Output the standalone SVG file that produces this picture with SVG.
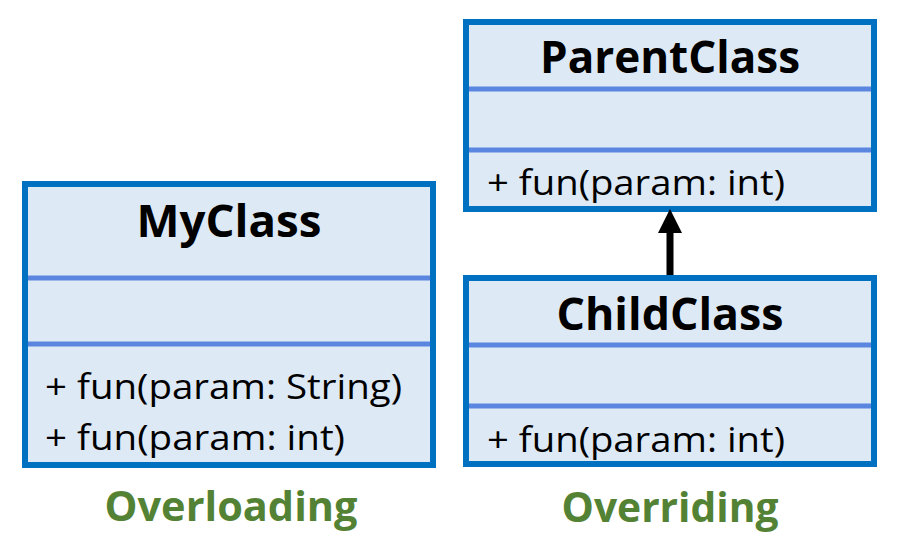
<svg xmlns="http://www.w3.org/2000/svg" width="905" height="547" viewBox="0 0 905 547">
<style>
.box{fill:#DEE9F6;stroke:#0070C0;stroke-width:6}
.div{stroke:#5B86DF;stroke-width:5}
.title{font-family:"Open Sans","Liberation Sans",sans-serif;font-weight:bold;font-size:44px;fill:#000;text-anchor:middle}
.meth{font-family:"Open Sans","Liberation Sans",sans-serif;font-size:35px;fill:#000}
.lbl{font-family:"Open Sans","Liberation Sans",sans-serif;font-weight:bold;font-size:41px;fill:#548235;text-anchor:middle}
</style>
<rect width="905" height="547" fill="#fff"/>
<g id="myclass">
<rect class="box" x="25" y="184" width="408" height="281"/>
<line class="div" x1="28" y1="278" x2="430" y2="278"/>
<line class="div" x1="28" y1="344" x2="430" y2="344"/>
<text class="title" x="229" y="237" textLength="185" lengthAdjust="spacingAndGlyphs">MyClass</text>
<text class="meth" x="45" y="399" textLength="357" lengthAdjust="spacingAndGlyphs">+ fun(param: String)</text>
<text class="meth" x="45" y="450" textLength="300" lengthAdjust="spacingAndGlyphs">+ fun(param: int)</text>
</g>
<g id="parentclass">
<rect class="box" x="466" y="22" width="408" height="187"/>
<line class="div" x1="469" y1="89" x2="871" y2="89"/>
<line class="div" x1="469" y1="150" x2="871" y2="150"/>
<text class="title" x="670" y="73" textLength="260" lengthAdjust="spacingAndGlyphs">ParentClass</text>
<text class="meth" x="487" y="195" textLength="298" lengthAdjust="spacingAndGlyphs">+ fun(param: int)</text>
</g>
<g id="childclass">
<rect class="box" x="466" y="278" width="408" height="186"/>
<line class="div" x1="469" y1="345" x2="871" y2="345"/>
<line class="div" x1="469" y1="406" x2="871" y2="406"/>
<text class="title" x="670" y="330" textLength="227" lengthAdjust="spacingAndGlyphs">ChildClass</text>
<text class="meth" x="487" y="452" textLength="298" lengthAdjust="spacingAndGlyphs">+ fun(param: int)</text>
</g>
<g id="connectors">
<line x1="670" y1="275" x2="670" y2="230" stroke="#000" stroke-width="7"/>
<polygon points="658,233 682,233 670,209" fill="#000"/>
</g>
<g id="labels">
<text class="lbl" x="231" y="521" textLength="253" lengthAdjust="spacingAndGlyphs">Overloading</text>
<text class="lbl" x="670" y="522" textLength="217" lengthAdjust="spacingAndGlyphs">Overriding</text>
</g>
</svg>
